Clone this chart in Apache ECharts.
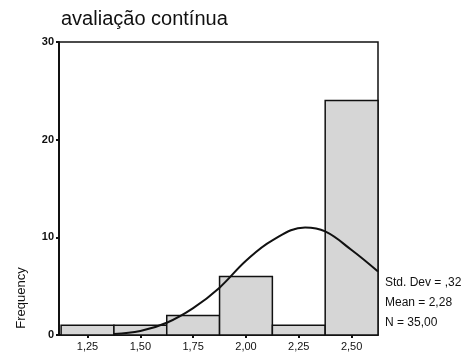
<!DOCTYPE html>
<html>
<head>
<meta charset="utf-8">
<script src="https://cdn.jsdelivr.net/npm/echarts@6/dist/echarts.min.js"></script>
<style>
html,body{margin:0;padding:0;background:#fff;}
#chart{width:470px;height:355px;}
</style>
</head>
<body>
<div id="chart"></div>
<script>
const titleText = 'avaliação contínua';
const yAxisTitle = 'Frequency';
const binWidth = 0.25;
const binCenters = [1.25, 1.50, 1.75, 2.00, 2.25, 2.50];
const frequencies = [1, 1, 2, 6, 1, 24];
const curveX = [1.375, 1.5, 1.625, 1.75, 1.875, 2.0, 2.125, 2.28, 2.375, 2.5, 2.625];
const curveY = [0.1, 0.4, 1.25, 2.75, 4.85, 7.6, 9.7, 11.0, 10.6, 8.7, 6.5];
const xTickValues = [1.25, 1.50, 1.75, 2.00, 2.25, 2.50];
const yMin = 0, yMax = 30, yInterval = 10;
const xMin = 1.115, xMax = 2.625;
const statsLines = ['Std. Dev = ,32', 'Mean = 2,28', 'N = 35,00'];

const chart = echarts.init(document.getElementById('chart'), null, {renderer: 'canvas'});
const font = '"Liberation Sans", Arial, sans-serif';

const barData = binCenters.map((c, i) => [c, frequencies[i]]);
const curveData = curveX.map((x, i) => [x, curveY[i]]);

const option = {
  animation: false,
  backgroundColor: '#fff',
  title: {
    text: titleText,
    left: 56,
    top: 4,
    textStyle: {fontFamily: font, fontSize: 20, fontWeight: 'normal', color: '#111'}
  },
  grid: {
    left: 59, right: 92, top: 42, bottom: 20,
    show: true, borderColor: '#111', borderWidth: 1.5, backgroundColor: 'transparent'
  },
  xAxis: {
    type: 'value',
    min: xMin, max: xMax,
    splitLine: {show: false},
    axisLine: {show: true, lineStyle: {color: '#111', width: 1.5}},
    axisTick: {show: true, customValues: xTickValues, length: 3, inside: false, lineStyle: {color: '#111', width: 2}},
    axisLabel: {
      customValues: xTickValues,
      margin: 6,
      fontFamily: font, fontSize: 11, color: '#111',
      formatter: v => v.toFixed(2).replace('.', ',')
    }
  },
  yAxis: {
    type: 'value',
    min: yMin, max: yMax, interval: yInterval,
    splitLine: {show: false},
    axisLine: {show: true, lineStyle: {color: '#111', width: 2}},
    axisTick: {show: true, length: 3, lineStyle: {color: '#111', width: 2}},
    axisLabel: {margin: 5, fontFamily: font, fontSize: 11, fontWeight: 'bold', color: '#111'}
  },
  series: [
    {
      type: 'custom',
      data: barData,
      z: 2,
      renderItem: function (params, api) {
        const c = api.value(0), f = api.value(1);
        const p0 = api.coord([c - binWidth / 2, 0]);
        const p1 = api.coord([c + binWidth / 2, f]);
        return {
          type: 'rect',
          shape: {x: p0[0], y: p1[1], width: p1[0] - p0[0], height: p0[1] - p1[1]},
          style: {fill: '#d6d6d6', stroke: '#111', lineWidth: 1.5}
        };
      }
    },
    {
      type: 'line',
      data: curveData,
      z: 3,
      smooth: 0.4,
      showSymbol: false,
      symbol: 'none',
      lineStyle: {color: '#111', width: 2}
    }
  ],
  graphic: [
    {
      type: 'text',
      x: 21, y: 298,
      rotation: Math.PI / 2,
      style: {text: yAxisTitle, fontFamily: font, fontSize: 13, fill: '#111', align: 'center', verticalAlign: 'middle'}
    }
  ].concat(statsLines.map((t, i) => ({
    type: 'text',
    x: 385, y: 283 + i * 20,
    style: {text: t, fontFamily: font, fontSize: 12, fill: '#111', align: 'left', verticalAlign: 'middle'}
  })))
};
chart.setOption(option);
</script>
</body>
</html>
